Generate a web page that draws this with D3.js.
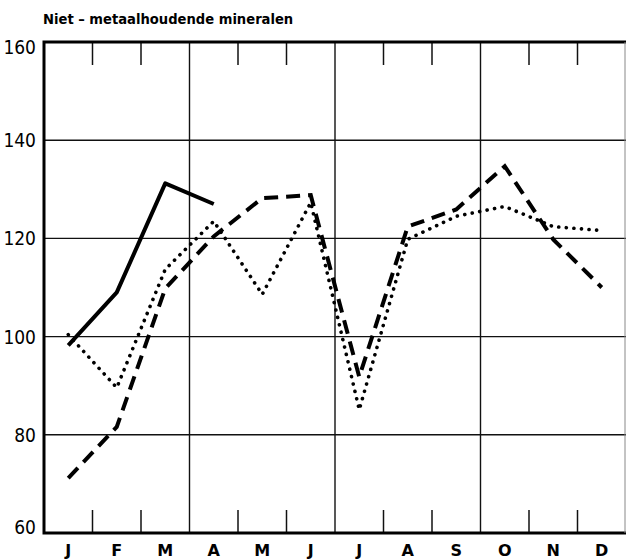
<!DOCTYPE html>
<html>
<head>
<meta charset="utf-8">
<script src="https://cdn.jsdelivr.net/npm/d3@7"></script>
<style>
	body { margin: 0; background: #fff; }
	svg { display: block; }
	.title { font-family: "DejaVu Sans Condensed", "DejaVu Sans", sans-serif; font-stretch: condensed; font-weight: bold; font-size: 14.6px; }
	.ylab { font-family: "DejaVu Sans Condensed", "DejaVu Sans", sans-serif; font-stretch: condensed; font-size: 19px; }
	.xlab { font-family: "DejaVu Sans", sans-serif; font-weight: bold; font-size: 16px; }
</style>
</head>
<body>
<svg id="chart" width="628" height="559"></svg>
<script>
const months = ["J", "F", "M", "A", "M", "J", "J", "A", "S", "O", "N", "D"];
const yTicks = [60, 80, 100, 120, 140, 160];

// solid line, only first four months
const seriesSolid = [98.2, 109, 131.2, 127];
// dashed line
const seriesDashed = [71.2, 81.6, 109.8, 120.4, 128.2, 128.8, 91.8, 122.4, 125.9, 134.7, 119.8, 110];
// dotted line
const seriesDotted = [100.4, 89.6, 113.7, 123.5, 108.6, 127.3, 85.1, 119.8, 124.5, 126.5, 122.4, 121.6];

const margin = { top: 42, right: 2, bottom: 26, left: 44 };
const width = 628;
const height = 559;

const svg = d3.select("#chart");

const x = d3.scaleLinear()
	.domain([0, 12])
	.range([margin.left, width - margin.right]);

const y = d3.scaleLinear()
	.domain([60, 160])
	.range([height - margin.bottom, margin.top]);

const grid = svg.append("g").attr("stroke", "#111");

// horizontal grid lines
grid.selectAll("line.h")
	.data(yTicks.filter(d => d > 60 && d < 160))
	.join("line")
	.attr("class", "h")
	.attr("x1", x(0)).attr("x2", x(12))
	.attr("y1", d => y(d)).attr("y2", d => y(d))
	.attr("stroke-width", 1.4);

// quarter lines
grid.selectAll("line.q")
	.data([3, 6, 9])
	.join("line")
	.attr("class", "q")
	.attr("x1", d => x(d)).attr("x2", d => x(d))
	.attr("y1", y(160)).attr("y2", y(60))
	.attr("stroke-width", 1.4);

// short ticks at month boundaries (top and bottom)
const minor = d3.range(1, 12).filter(d => d % 3 !== 0);
grid.selectAll("line.tt")
	.data(minor)
	.join("line")
	.attr("class", "tt")
	.attr("x1", d => x(d)).attr("x2", d => x(d))
	.attr("y1", y(160)).attr("y2", y(160) + 23)
	.attr("stroke-width", 1.5);
grid.selectAll("line.tb")
	.data(minor)
	.join("line")
	.attr("class", "tb")
	.attr("x1", d => x(d)).attr("x2", d => x(d))
	.attr("y1", y(60)).attr("y2", y(60) - 23)
	.attr("stroke-width", 1.5);

// frame
svg.append("path")
	.attr("d", `M${x(12)},${y(160)}H${x(0)}V${y(60)}H${x(12)}`)
	.attr("fill", "none")
	.attr("stroke", "#000")
	.attr("stroke-width", 3);
svg.append("line")
	.attr("x1", x(12) - 1).attr("x2", x(12) - 1)
	.attr("y1", y(160)).attr("y2", y(60))
	.attr("stroke", "#888").attr("stroke-width", 1);

// y labels (top and bottom ones sit a little inside the frame)
const labelShift = d => (d === 160 ? 5 : d === 60 ? -6 : 0);
svg.append("g").selectAll("text")
	.data(yTicks)
	.join("text")
	.attr("class", "ylab")
	.attr("x", 36)
	.attr("y", d => y(d) + labelShift(d) + 7)
	.attr("text-anchor", "end")
	.text(d => d);

// month labels
svg.append("g").selectAll("text")
	.data(months)
	.join("text")
	.attr("class", "xlab")
	.attr("x", (d, i) => x(i + 0.5))
	.attr("y", 556)
	.attr("text-anchor", "middle")
	.text(d => d);

svg.append("text")
	.attr("class", "title")
	.attr("x", 43)
	.attr("y", 24)
	.text("Niet – metaalhoudende mineralen");

const line = d3.line()
	.x((d, i) => x(i + 0.5))
	.y(d => y(d));

svg.append("path")
	.datum(seriesDotted)
	.attr("d", line)
	.attr("fill", "none")
	.attr("stroke", "#000")
	.attr("stroke-width", 3.6)
	.attr("stroke-linecap", "round")
	.attr("stroke-dasharray", "0.1 7.5");

svg.append("path")
	.datum(seriesDashed)
	.attr("d", line)
	.attr("fill", "none")
	.attr("stroke", "#000")
	.attr("stroke-width", 4)
	.attr("stroke-dasharray", "14 8");

svg.append("path")
	.datum(seriesSolid)
	.attr("d", line)
	.attr("fill", "none")
	.attr("stroke", "#000")
	.attr("stroke-width", 4)
	.attr("stroke-linejoin", "round");
</script>
</body>
</html>
